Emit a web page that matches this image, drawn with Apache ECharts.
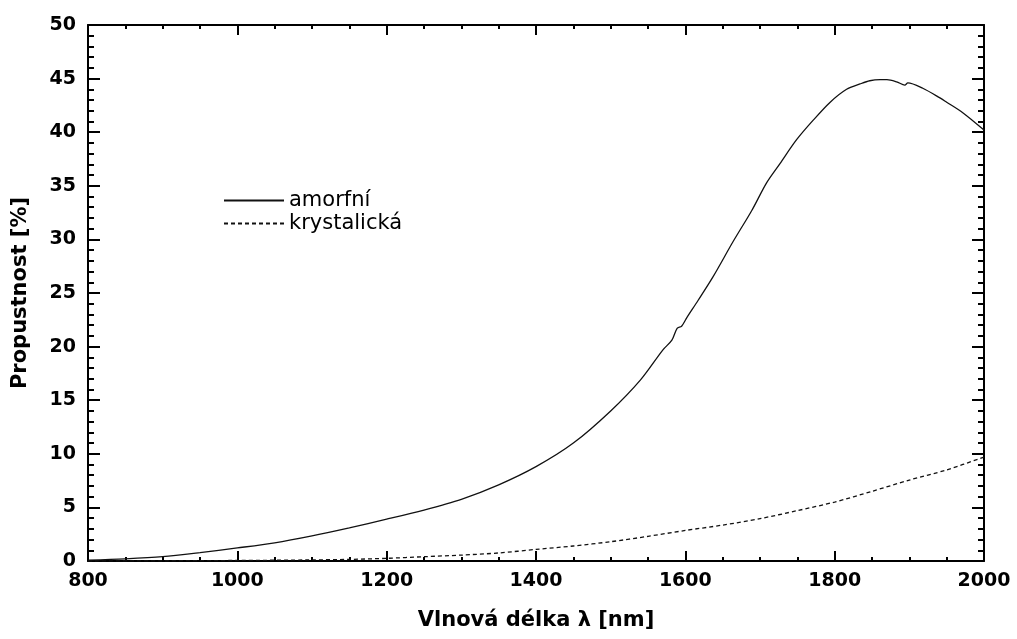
<!DOCTYPE html>
<html>
<head>
<meta charset="utf-8">
<script src="https://cdn.jsdelivr.net/npm/echarts@6/dist/echarts.min.js"></script>
<style>html,body{margin:0;padding:0;background:#fff;}#c{width:1017px;height:639px;}</style>
</head>
<body>
<div id="c"></div>
<script>
var wlAmorf = [800, 850, 900, 950, 1000, 1050, 1100, 1150, 1200, 1250, 1300, 1350, 1400, 1450, 1500, 1540, 1570, 1582, 1589, 1595, 1602, 1617, 1637, 1664, 1689, 1709, 1727, 1749, 1771, 1794, 1816, 1834, 1847, 1861, 1870, 1883, 1894, 1898, 1918, 1941, 1950, 1972, 2000];
var amorfni = [0.08, 0.2, 0.4, 0.78, 1.22, 1.7, 2.35, 3.1, 3.9, 4.75, 5.75, 7.1, 8.8, 11.0, 14.0, 16.9, 19.7, 20.6, 21.7, 21.9, 22.7, 24.3, 26.5, 29.8, 32.7, 35.3, 37.1, 39.3, 41.1, 42.8, 44.0, 44.5, 44.8, 44.9, 44.9, 44.7, 44.4, 44.6, 44.1, 43.2, 42.8, 41.8, 40.2];
var wlKrys = [800, 900, 1000, 1100, 1150, 1200, 1250, 1300, 1350, 1400, 1450, 1500, 1550, 1600, 1650, 1700, 1750, 1800, 1850, 1900, 1950, 2000];
var krystalicka = [0, 0.02, 0.05, 0.1, 0.15, 0.25, 0.4, 0.55, 0.75, 1.08, 1.4, 1.8, 2.3, 2.85, 3.35, 3.95, 4.7, 5.5, 6.5, 7.55, 8.5, 9.7];
var seriesNames = ['amorfní', 'krystalická'];
var xName = 'Vlnová délka λ [nm]';
var yName = 'Propustnost [%]';

function pairs(xs, ys) { return xs.map(function (x, i) { return [x, ys[i]]; }); }

var chart = echarts.init(document.getElementById('c'), null, {renderer: 'canvas'});
var boldFont = 'DejaVu Sans, sans-serif';
var axisLineStyle = {color: '#000', width: 2};
var plainLabel = function (v) { return String(v); };
var baseX = {
  type: 'value', min: 800, max: 2000, interval: 200,
  axisLine: {show: true, onZero: false, lineStyle: axisLineStyle},
  axisTick: {show: true, inside: true, length: 10, lineStyle: {color: '#000', width: 2}},
  minorTick: {show: true, splitNumber: 4, length: 4, lineStyle: {color: '#000', width: 2}},
  splitLine: {show: false}
};
var baseY = {
  type: 'value', min: 0, max: 50, interval: 5,
  axisLine: {show: true, onZero: false, lineStyle: axisLineStyle},
  axisTick: {show: true, inside: true, length: 12, lineStyle: {color: '#000', width: 2}},
  minorTick: {show: true, splitNumber: 5, length: 6, lineStyle: {color: '#000', width: 2}},
  splitLine: {show: false}
};
var option = {
  animation: false,
  backgroundColor: '#fff',
  grid: {left: 88, right: 33, top: 25, bottom: 78, containLabel: false},
  legend: {
    orient: 'vertical', left: 218, top: 185, itemWidth: 60, itemHeight: 14, itemGap: 2,
    itemStyle: {opacity: 0},
    textStyle: {fontFamily: 'DejaVu Sans, sans-serif', fontSize: 21, color: '#000', padding: [0, 0, 0, 0]},
    data: seriesNames
  },
  xAxis: [
    Object.assign({}, baseX, {
      position: 'bottom',
      axisLabel: {show: true, margin: 11, color: '#000', fontFamily: boldFont, fontSize: 19, fontWeight: 'bold', formatter: plainLabel},
      name: xName, nameLocation: 'middle', nameGap: 49,
      nameTextStyle: {fontFamily: boldFont, fontSize: 21, fontWeight: 'bold', color: '#000'}
    }),
    Object.assign({}, baseX, {position: 'top', axisLabel: {show: false}})
  ],
  yAxis: [
    Object.assign({}, baseY, {
      position: 'left',
      axisLabel: {show: true, margin: 12, color: '#000', fontFamily: boldFont, fontSize: 19, fontWeight: 'bold', formatter: plainLabel},
      name: yName, nameLocation: 'middle', nameGap: 57,
      nameTextStyle: {fontFamily: boldFont, fontSize: 21, fontWeight: 'bold', color: '#000'}
    }),
    Object.assign({}, baseY, {position: 'right', axisLabel: {show: false}})
  ],
  series: [
    {
      name: seriesNames[0], type: 'line', xAxisIndex: 0, yAxisIndex: 0,
      data: pairs(wlAmorf, amorfni), symbol: 'none', smooth: 0.3,
      lineStyle: {color: '#111', width: 1.3, type: 'solid'}, itemStyle: {color: '#111'}
    },
    {
      name: seriesNames[1], type: 'line', xAxisIndex: 0, yAxisIndex: 0,
      data: pairs(wlKrys, krystalicka), symbol: 'none', smooth: 0.3,
      lineStyle: {color: '#111', width: 1.3, type: [4, 3]}, itemStyle: {color: '#111'}
    }
  ]
};
chart.setOption(option);
</script>
</body>
</html>
